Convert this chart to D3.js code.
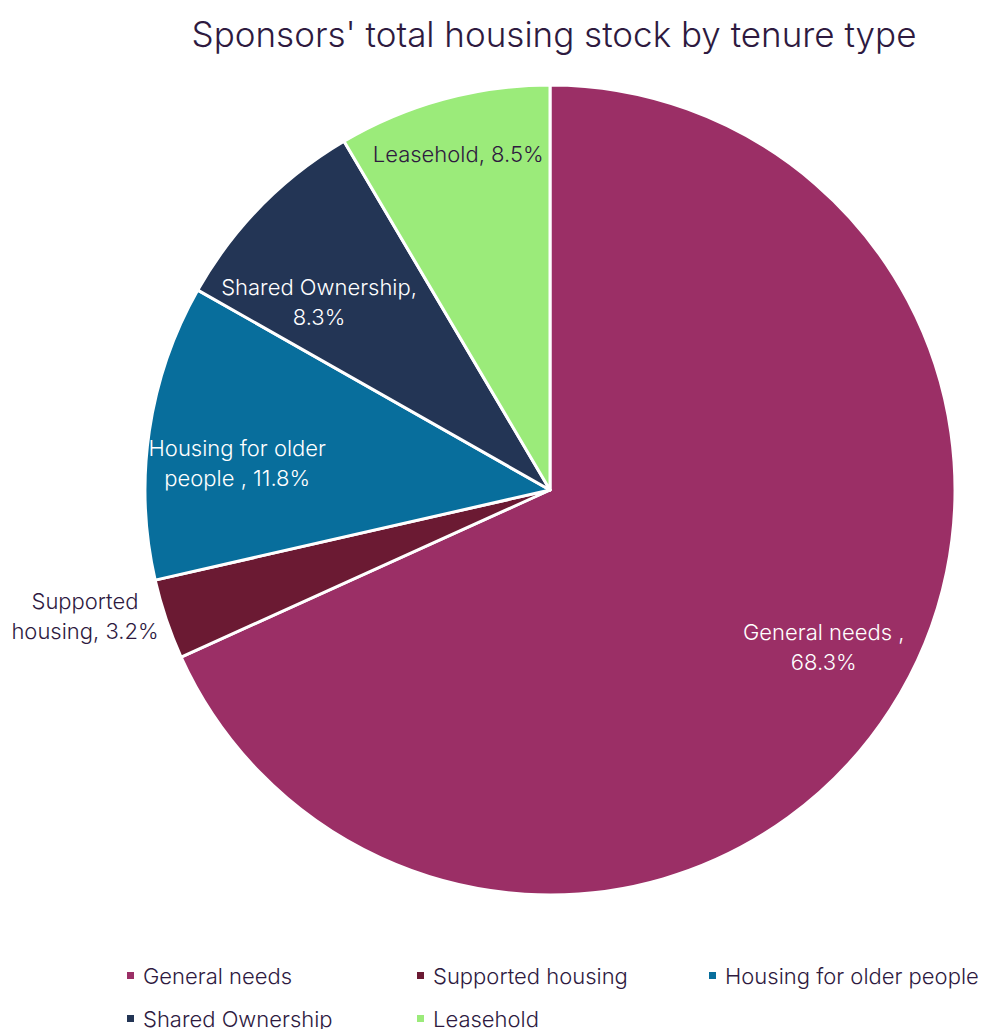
<!DOCTYPE html>
<html>
<head>
<meta charset="utf-8">
<script src="https://cdn.jsdelivr.net/npm/d3@7"></script>
<style>
  body { margin: 0; background: #fff; }
  svg { display: block; font-family: Inter, "Open Sans", sans-serif; font-weight: 300; }
</style>
</head>
<body>
<script>
let categories = ['General needs', 'Supported housing', 'Housing for older people', 'Shared Ownership', 'Leasehold']
let labelText = [['General needs ,', '68.3%'], ['Supported', 'housing, 3.2%'], ['Housing for older', 'people , 11.8%'], ['Shared Ownership,', '8.3%'], ['Leasehold, 8.5%']]
let values = [68.3, 3.2, 11.8, 8.3, 8.5]
let colors = ['#9b2f66', '#6b1a33', '#086e9c', '#233555', '#9beb7a']
let labelColors = ['#fff', '#2e1a3f', '#fff', '#fff', '#2e1a3f']
// label placement: share of radius, and a nudge of the angle in radians
let labelRadius = [0.78, 1.19, 0.775, 0.735, 0.86]
let labelAngleShift = [-0.05, 0.059, -0.061, -0.094, 0]

let width = 990
let height = 1029
let cx = 550
let cy = 490
let radius = 405
let textColor = '#2e1a3f'

let svg = d3.select('body').append('svg')
    .attr('width', width)
    .attr('height', height)

svg.append('text')
    .attr('x', 554)
    .attr('y', 47)
    .attr('text-anchor', 'middle')
    .attr('fill', textColor)
    .style('font-size', '35px')
    .text("Sponsors' total housing stock by tenure type")

let pie = d3.pie().sort(null).value(d => d)
let arcs = pie(values)
let arc = d3.arc().innerRadius(0).outerRadius(radius)

let g = svg.append('g').attr('transform', `translate(${cx},${cy})`)

g.selectAll('path')
    .data(arcs)
    .enter()
    .append('path')
    .attr('d', arc)
    .attr('fill', (d, i) => colors[i])
    .attr('stroke', '#fff')
    .attr('stroke-width', 3)
    .attr('stroke-linejoin', 'round')

let labels = g.selectAll('text.label')
    .data(arcs)
    .enter()
    .append('text')
    .attr('class', 'label')
    .attr('text-anchor', 'middle')
    .attr('fill', (d, i) => labelColors[i])
    .style('font-size', '22px')
    .attr('transform', (d, i) => {
        let a = (d.startAngle + d.endAngle) / 2 + labelAngleShift[i]
        let r = radius * labelRadius[i]
        let lines = labelText[i].length
        return `translate(${Math.sin(a) * r},${-Math.cos(a) * r - (lines - 1) * 15})`
    })

labels.selectAll('tspan')
    .data((d, i) => labelText[i])
    .enter()
    .append('tspan')
    .attr('x', 0)
    .attr('dy', (t, k) => k === 0 ? '0.35em' : 30)
    .text(t => t)

let legend = svg.append('g')
let legendX = [130, 420, 712]
let legendY = [976, 1019]
let items = legend.selectAll('g')
    .data(categories)
    .enter()
    .append('g')
    .attr('transform', (d, i) => `translate(${legendX[i % 3]},${legendY[Math.floor(i / 3)]})`)
items.append('rect')
    .attr('x', -3)
    .attr('y', -4)
    .attr('width', 7)
    .attr('height', 7)
    .attr('fill', (d, i) => colors[i])
items.append('text')
    .attr('x', 13)
    .attr('dy', '0.35em')
    .attr('fill', textColor)
    .style('font-size', '22px')
    .text(d => d)
</script>
</body>
</html>
